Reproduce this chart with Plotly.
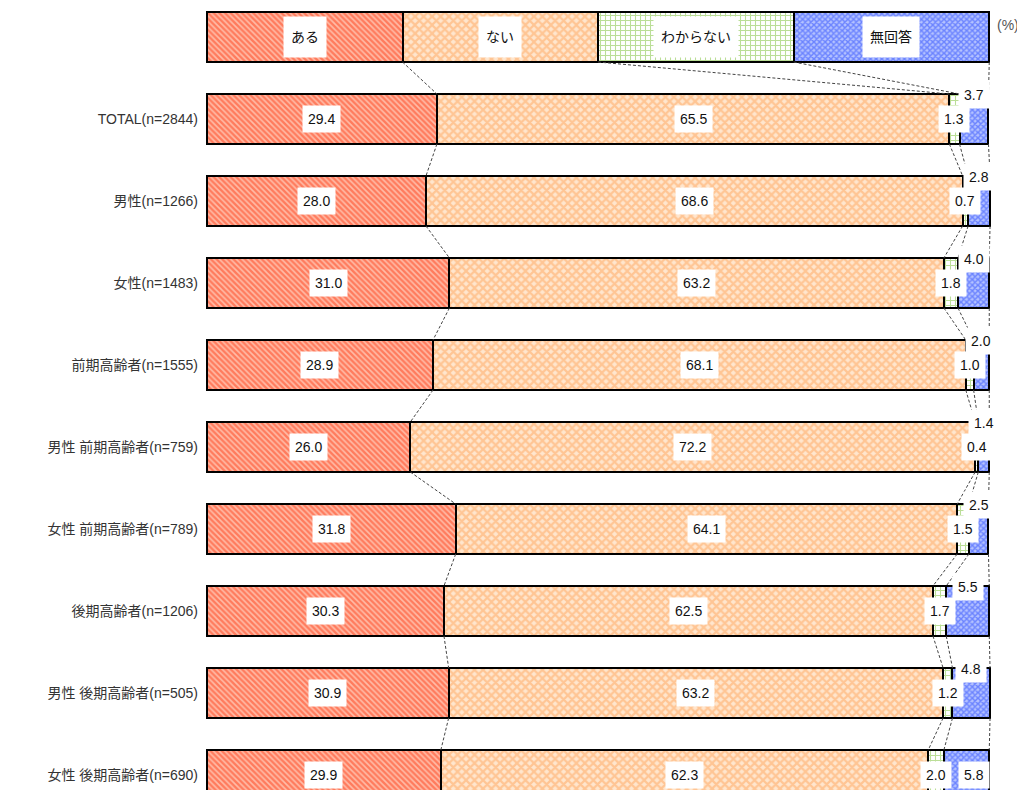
import plotly.graph_objects as go

# categories (top to bottom)
groups = ["TOTAL(n=2844)", "男性(n=1266)", "女性(n=1483)", "前期高齢者(n=1555)",
          "男性 前期高齢者(n=759)", "女性 前期高齢者(n=789)", "後期高齢者(n=1206)",
          "男性 後期高齢者(n=505)", "女性 後期高齢者(n=690)"]
answers = ["ある", "ない", "わからない", "無回答"]

aru = [29.4, 28.0, 31.0, 28.9, 26.0, 31.8, 30.3, 30.9, 29.9]
nai = [65.5, 68.6, 63.2, 68.1, 72.2, 64.1, 62.5, 63.2, 62.3]
wakaranai = [1.3, 0.7, 1.8, 1.0, 0.4, 1.5, 1.7, 1.2, 2.0]
mukaito = [3.7, 2.8, 4.0, 2.0, 1.4, 2.5, 5.5, 4.8, 5.8]

series = [aru, nai, wakaranai, mukaito]
styles = [
    dict(shape="\\", fg="#FF3A12", bg="#FFBCA8", size=4, sol=0.6),
    dict(shape="x", fg="#FFA45A", bg="#FFE6CE", size=6, sol=0.6),
    dict(shape="+", fg="#78BE30", bg="white", size=5, sol=0.38),
    dict(shape="x", fg="#2244FF", bg="#B4C2FF", size=4, sol=0.6),
]

FONT = "Liberation Sans, Noto Sans CJK JP"
H = 0.61           # bar thickness in row units
rows = list(range(1, len(groups) + 1))
legend_w = 100 / len(answers)

fig = go.Figure()

for name, vals, st in zip(answers, series, styles):
    marker = dict(color=st["bg"], line=dict(color="black", width=2),
                  pattern=dict(shape=st["shape"], fgcolor=st["fg"], bgcolor=st["bg"],
                               size=st["size"], solidity=st["sol"]))
    fig.add_trace(go.Bar(y=[0] + rows, x=[legend_w] + vals, orientation="h", width=H,
                         name=name, marker=marker, showlegend=False, hoverinfo="skip"))

# cumulative boundaries
cums = []
for i in range(len(groups)):
    c, acc = [], 0
    for s in series:
        acc += s[i]
        c.append(acc)
    cums.append(c)
legend_cums = [legend_w * (k + 1) for k in range(len(answers))]
all_cums = [legend_cums] + cums

# dashed connector lines
for k in range(len(answers)):
    xs, ys = [], []
    for r in range(len(all_cums) - 1):
        xs += [all_cums[r][k], all_cums[r + 1][k], None]
        ys += [r + H / 2, r + 1 - H / 2, None]
    fig.add_trace(go.Scatter(x=xs, y=ys, mode="lines", showlegend=False, hoverinfo="skip",
                             line=dict(color="#444444", width=1, dash="3px,2px")))

annotations = []
# legend row labels
for k, name in enumerate(answers):
    annotations.append(dict(x=legend_w * (k + 0.5), y=0, text=name, showarrow=False,
                            bgcolor="white", borderpad=7, height=26,
                            font=dict(size=14, color="#111111", family=FONT)))

# value labels
for i in range(len(groups)):
    starts = [0] + cums[i][:-1]
    for k, vals in enumerate(series):
        xc = starts[k] + vals[i] / 2
        ann = dict(x=xc, y=rows[i], text=f"{vals[i]:.1f}", showarrow=False,
                   bgcolor="white", borderpad=5,
                   font=dict(size=14, color="#111111", family=FONT))
        if k == 3:
            if i == len(groups) - 1:
                ann["xshift"] = 7
            else:
                ann["yshift"] = 24
        annotations.append(ann)

annotations.append(dict(x=100, xanchor="left", xshift=6, y=0, yshift=12,
                        text="(%)", showarrow=False,
                        font=dict(size=14, color="#555555", family=FONT)))

fig.update_layout(
    width=1017, height=782,
    margin=dict(l=195, r=24, t=0, b=0),
    paper_bgcolor="white", plot_bgcolor="white",
    barmode="stack", bargap=0,
    annotations=annotations,
    xaxis=dict(range=[-0.5, 101.5], showgrid=False, zeroline=False, showticklabels=False,
               fixedrange=True),
    yaxis=dict(range=[9 + 15 / 82, -29 / 82], tickvals=rows, ticktext=groups,
               showgrid=False, zeroline=False, ticks="", ticklabelstandoff=4,
               tickfont=dict(size=14, color="#333333", family=FONT)),
    font=dict(family=FONT),
)

fig.write_html("out.html")
